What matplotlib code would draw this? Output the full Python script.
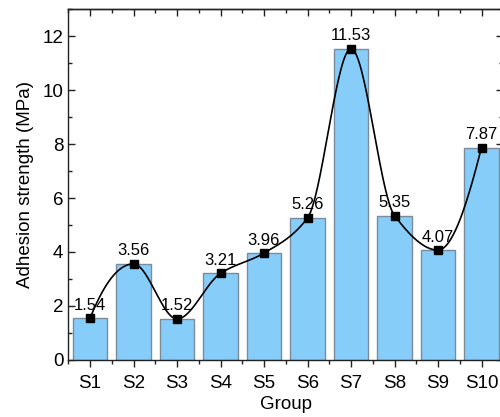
import numpy as np
import matplotlib
matplotlib.use("Agg")
import matplotlib.pyplot as plt
from matplotlib.ticker import MultipleLocator

groups = ["S1", "S2", "S3", "S4", "S5", "S6", "S7", "S8", "S9", "S10"]
strength = [1.54, 3.56, 1.52, 3.21, 3.96, 5.26, 11.53, 5.35, 4.07, 7.87]

plt.rcParams["font.family"] = ["Liberation Sans", "DejaVu Sans"]


def pchip(x, y, xs):
    """Shape-preserving piecewise cubic Hermite interpolation."""
    x = np.asarray(x, float)
    y = np.asarray(y, float)
    h = np.diff(x)
    delta = np.diff(y) / h
    n = len(x)
    d = np.zeros(n)
    for k in range(1, n - 1):
        if delta[k - 1] * delta[k] > 0:
            w1 = 2 * h[k] + h[k - 1]
            w2 = h[k] + 2 * h[k - 1]
            d[k] = (w1 + w2) / (w1 / delta[k - 1] + w2 / delta[k])
    def end_slope(h0, h1, del0, del1):
        s = ((2 * h0 + h1) * del0 - h0 * del1) / (h0 + h1)
        if np.sign(s) != np.sign(del0):
            s = 0.0
        elif np.sign(del0) != np.sign(del1) and abs(s) > abs(3 * del0):
            s = 3 * del0
        return s
    d[0] = end_slope(h[0], h[1], delta[0], delta[1])
    d[-1] = end_slope(h[-1], h[-2], delta[-1], delta[-2])
    out = np.empty_like(xs)
    for k, xv in enumerate(xs):
        i = min(max(np.searchsorted(x, xv) - 1, 0), n - 2)
        t = (xv - x[i]) / h[i]
        h00 = 2 * t**3 - 3 * t**2 + 1
        h10 = t**3 - 2 * t**2 + t
        h01 = -2 * t**3 + 3 * t**2
        h11 = t**3 - t**2
        out[k] = h00 * y[i] + h10 * h[i] * d[i] + h01 * y[i + 1] + h11 * h[i] * d[i + 1]
    return out


fig = plt.figure(figsize=(5.0, 4.17), dpi=100)
ax = fig.add_axes([0.1365, 0.1367, 0.87, 0.8417])

pos = np.arange(1, len(groups) + 1)
ax.bar(pos, strength, width=0.8, color="#87CDFA", edgecolor="#7A8C9C",
       linewidth=1.0, zorder=2)

xs = np.linspace(pos[0], pos[-1], 500)
ax.plot(xs, pchip(pos, strength, xs), color="black", lw=1.2, zorder=3)
ax.plot(pos, strength, ls="none", marker="s", ms=5.5, color="black", zorder=4)

for p, v in zip(pos, strength):
    ax.annotate(f"{v:.2f}", (p, v), xytext=(0, 4), textcoords="offset points",
                ha="center", va="bottom", fontsize=12, zorder=5)

ax.set_xlim(0.5, 10.5)
ax.set_ylim(0, 13)
ax.set_xticks(pos)
ax.set_xticklabels(groups)
ax.yaxis.set_major_locator(MultipleLocator(2))
ax.yaxis.set_minor_locator(MultipleLocator(1))
ax.xaxis.set_minor_locator(MultipleLocator(1, offset=0.5))

ax.tick_params(axis="both", which="both", labelsize=13.5, width=1.0, color="#222222")
ax.tick_params(axis="x", which="major", direction="out", length=5, pad=6)
ax.tick_params(axis="x", which="minor", direction="out", length=3)
ax.tick_params(axis="y", which="major", direction="in", length=5, right=True)
ax.tick_params(axis="y", which="minor", direction="in", length=3, right=True)

# inward ticks along the top frame
top = ax.secondary_xaxis("top")
top.set_xticks(pos)
top.xaxis.set_minor_locator(MultipleLocator(1, offset=0.5))
top.tick_params(axis="x", which="both", direction="in", labeltop=False,
                width=1.0, color="#222222")
top.tick_params(axis="x", which="major", length=5)
top.tick_params(axis="x", which="minor", length=3)
top.spines["top"].set_linewidth(1.0)
top.spines["top"].set_color("#222222")

for s in ax.spines.values():
    s.set_linewidth(1.0)
    s.set_color("#222222")

ax.set_xlabel("Group", fontsize=13.5, labelpad=3)
ax.set_ylabel("Adhesion strength (MPa)", fontsize=13.5, labelpad=6)

fig.savefig("out.png", dpi=100)
